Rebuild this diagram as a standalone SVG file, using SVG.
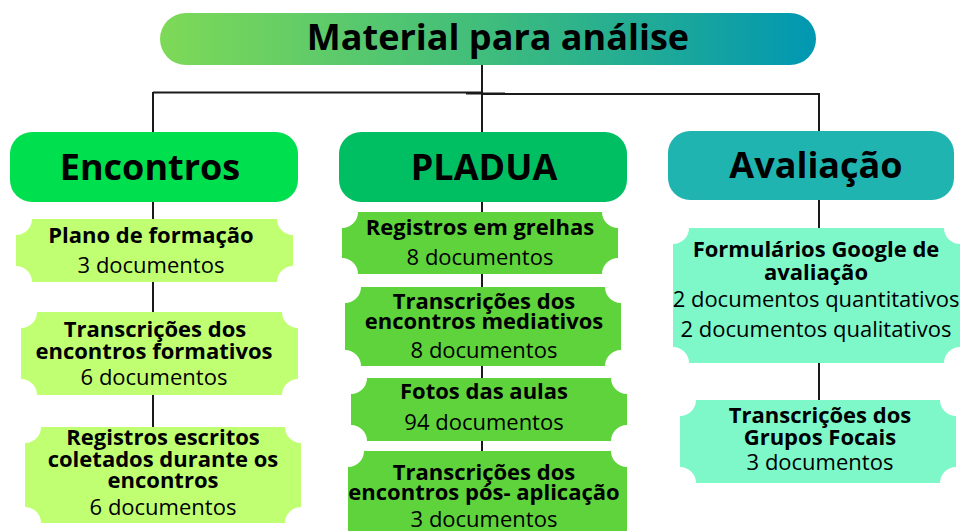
<svg xmlns="http://www.w3.org/2000/svg" width="963" height="531" viewBox="0 0 963 531">
<defs>
<linearGradient id="tg" x1="0" y1="0" x2="1" y2="0">
<stop offset="0" stop-color="#7ed957"/>
<stop offset="0.5" stop-color="#3fbd7c"/>
<stop offset="1" stop-color="#0097b2"/>
</linearGradient>
<style>
text{font-family:"Open Sans","Noto Sans","Liberation Sans",sans-serif;fill:#000;text-anchor:middle}
.t{font-size:36px;font-weight:700}
.h{font-size:36px;font-weight:700}
.b{font-size:22px;font-weight:700}
.r{font-size:22px;font-weight:400}
.ln{stroke:#1a1a1a;stroke-width:2;fill:none}
.c1{fill:#c1ff72}
.c2{fill:#5fd33c}
.c3{fill:#7ef8c9}
</style>
</defs>
<rect width="963" height="531" fill="#fff"/>
<g id="connectors">
<line class="ln" x1="482" y1="65" x2="482" y2="470"/>
<line class="ln" x1="153" y1="92.5" x2="482" y2="92.5"/>
<line class="ln" x1="482" y1="94" x2="820" y2="94"/>
<line class="ln" x1="466" y1="93.5" x2="505" y2="93.5" stroke-width="2.5"/>
<line class="ln" x1="153" y1="92" x2="153" y2="430"/>
<line class="ln" x1="819" y1="93" x2="819" y2="402"/>
</g>
<g id="title">
<rect x="160" y="13" width="656" height="52" rx="26" fill="url(#tg)"/>
<text class="t" x="498" y="50">Material para análise</text>
</g>
<g id="encontros">
<rect x="10" y="132" width="288" height="70" rx="22" fill="#00df4e"/>
<text class="h" x="150" y="180">Encontros</text>
</g>
<g id="pladua">
<rect x="339" y="132" width="288" height="70" rx="22" fill="#00bf63"/>
<text class="h" x="484" y="180">PLADUA</text>
</g>
<g id="avaliacao">
<rect x="668" y="131" width="286" height="69" rx="22" fill="#20b4b0"/>
<text class="h" x="816" y="178">Avaliação</text>
</g>
<g id="e1">
<path class="c1" d="M32,219 H277 A16,16 0 0 0 293,235 V266 A16,16 0 0 0 277,282 H32 A16,16 0 0 0 16,266 V235 A16,16 0 0 0 32,219 Z"/>
<text class="b" x="151" y="243">Plano de formação</text>
<text class="r" x="151" y="273">3 documentos</text>
</g>
<g id="e2">
<path class="c1" d="M37,312 H282 A16,16 0 0 0 298,328 V379 A16,16 0 0 0 282,395 H37 A16,16 0 0 0 21,379 V328 A16,16 0 0 0 37,312 Z"/>
<text class="b" x="155" y="337">Transcrições dos</text>
<text class="b" x="154" y="359">encontros formativos</text>
<text class="r" x="154" y="385">6 documentos</text>
</g>
<g id="e3">
<path class="c1" d="M41,427 H285 A16,16 0 0 0 301,443 V507 A16,16 0 0 0 285,523 H41 A16,16 0 0 0 25,507 V443 A16,16 0 0 0 41,427 Z"/>
<text class="b" x="163" y="445">Registros escritos</text>
<text class="b" x="163" y="467">coletados durante os</text>
<text class="b" x="163" y="488">encontros</text>
<text class="r" x="163" y="515">6 documentos</text>
</g>
<g id="p1">
<path class="c2" d="M358,212 H602 A16,16 0 0 0 618,228 V258 A16,16 0 0 0 602,274 H358 A16,16 0 0 0 342,258 V228 A16,16 0 0 0 358,212 Z"/>
<text class="b" x="480" y="235">Registros em grelhas</text>
<text class="r" x="480" y="265">8 documentos</text>
</g>
<g id="p2">
<path class="c2" d="M361,287 H605 A16,16 0 0 0 621,303 V350 A16,16 0 0 0 605,366 H361 A16,16 0 0 0 345,350 V303 A16,16 0 0 0 361,287 Z"/>
<text class="b" x="484" y="309">Transcrições dos</text>
<text class="b" x="484" y="329">encontros mediativos</text>
<text class="r" x="484" y="358">8 documentos</text>
</g>
<g id="p3">
<path class="c2" d="M367,378 H611 A16,16 0 0 0 627,394 V425 A16,16 0 0 0 611,441 H367 A16,16 0 0 0 351,425 V394 A16,16 0 0 0 367,378 Z"/>
<text class="b" x="484" y="399">Fotos das aulas</text>
<text class="r" x="484" y="430">94 documentos</text>
</g>
<g id="p4">
<path class="c2" d="M364,451 H611 A16,16 0 0 0 627,467 V531 H348 V467 A16,16 0 0 0 364,451 Z"/>
<text class="b" x="484" y="480">Transcrições dos</text>
<text class="b" x="484" y="500">encontros pós- aplicação</text>
<text class="r" x="484" y="527">3 documentos</text>
</g>
<g id="a1">
<path class="c3" d="M689,228 H944 A16,16 0 0 0 960,244 V347 A16,16 0 0 0 944,363 H689 A16,16 0 0 0 673,347 V244 A16,16 0 0 0 689,228 Z"/>
<text class="b" x="816" y="257">Formulários Google de</text>
<text class="b" x="816" y="280">avaliação</text>
<text class="r" x="816" y="307">2 documentos quantitativos</text>
<text class="r" x="816" y="337">2 documentos qualitativos</text>
</g>
<g id="a2">
<path class="c3" d="M696,400 H940 A16,16 0 0 0 956,416 V467 A16,16 0 0 0 940,483 H696 A16,16 0 0 0 680,467 V416 A16,16 0 0 0 696,400 Z"/>
<text class="b" x="820" y="423">Transcrições dos</text>
<text class="b" x="820" y="445">Grupos Focais</text>
<text class="r" x="820" y="470">3 documentos</text>
</g>
</svg>
